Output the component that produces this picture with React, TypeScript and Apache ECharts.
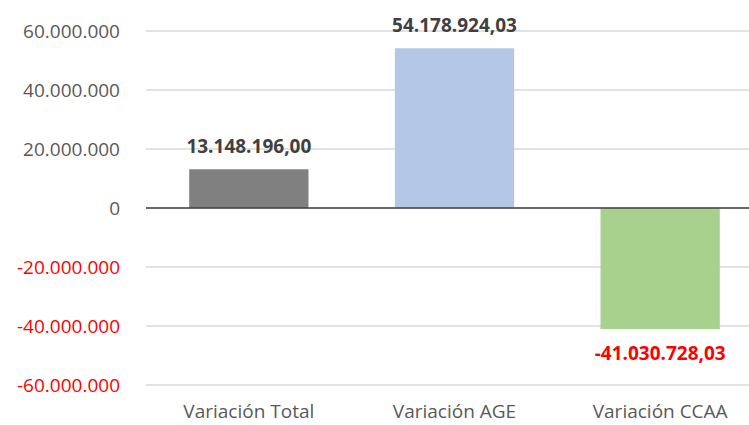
import React, { useEffect, useRef } from "react";
import * as echarts from "echarts";

const categories = ["Variación Total", "Variación AGE", "Variación CCAA"];
const values = [13148196.0, 54178924.03, -41030728.03];
const barColors = ["#808080", "#b4c7e7", "#a9d18e"];
const yMin = -60000000;
const yMax = 60000000;
const yInterval = 20000000;

function fmtInt(v: number): string {
  const neg = v < 0;
  const s = Math.round(Math.abs(v)).toString().replace(/\B(?=(\d{3})+(?!\d))/g, ".");
  return (neg ? "-" : "") + s;
}
function fmtDec(v: number): string {
  const neg = v < 0;
  const a = Math.abs(v);
  const ip = Math.floor(a + 1e-9);
  const dp = Math.round((a - ip) * 100);
  const s = ip.toString().replace(/\B(?=(\d{3})+(?!\d))/g, ".");
  return (neg ? "-" : "") + s + "," + String(dp).padStart(2, "0");
}

export default function App() {
  const ref = useRef<HTMLDivElement>(null);
  useEffect(() => {
    document.body.style.margin = "0";
    const chart = echarts.init(ref.current!, undefined, { renderer: "svg" });
    const font = "'Open Sans', 'Liberation Sans', Arial, sans-serif";
    chart.setOption({
      animation: false,
      backgroundColor: "#ffffff",
      grid: { left: 146, width: 617, top: 31, bottom: 40, containLabel: false, outerBoundsMode: "none" },
      xAxis: {
        type: "category",
        data: categories,
        axisLine: { show: false, onZero: false },
        axisTick: { show: false },
        axisLabel: { color: "#595959", fontSize: 19, fontFamily: font, margin: 16 },
      },
      yAxis: {
        type: "value",
        min: yMin,
        max: yMax,
        interval: yInterval,
        axisLine: { show: false },
        axisTick: { show: false },
        splitLine: { lineStyle: { color: "#d9d9d9", width: 1.5 } },
        axisLabel: {
          fontSize: 19,
          fontFamily: font,
          margin: 26,
          formatter: (v: number) => (v < 0 ? "{neg|" + fmtInt(v) + "}" : "{pos|" + fmtInt(v) + "}"),
          rich: {
            neg: { color: "#ff0000", fontSize: 19, fontFamily: font },
            pos: { color: "#595959", fontSize: 19, fontFamily: font },
          },
        },
      },
      series: [
        {
          type: "bar",
          barWidth: "58%",
          data: values.map((v, i) => ({
            value: v,
            itemStyle: { color: barColors[i] },
            label: {
              show: true,
              position: v < 0 ? "bottom" : "top",
              distance: 14,
              color: v < 0 ? "#ff0000" : "#404040",
              fontWeight: "bold",
              fontSize: 19,
              fontFamily: font,
              formatter: () => fmtDec(v),
            },
          })),
          markLine: {
            silent: true,
            symbol: "none",
            label: { show: false },
            lineStyle: { color: "#404040", width: 1.5, type: "solid" },
            data: [{ yAxis: 0 }],
          },
        },
      ],
    });
    return () => chart.dispose();
  }, []);
  return <div ref={ref} style={{ width: 749, height: 425, position: "absolute", left: 0, top: 0 }} />;
}
